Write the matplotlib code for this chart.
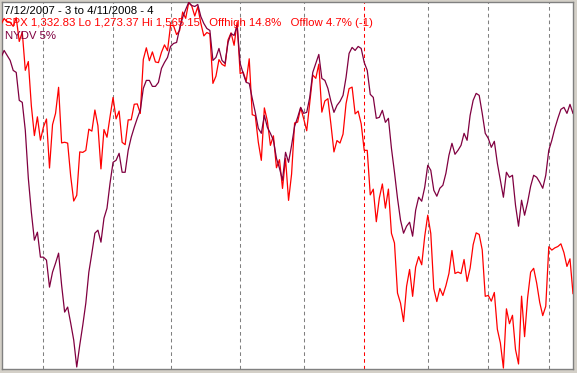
import matplotlib
matplotlib.use('Agg')
import matplotlib.pyplot as plt

# trading days per month, 7/12/2007 .. 4/11/2008
month_days = [14, 23, 19, 23, 21, 20, 21, 20, 20, 9]
new_year_month = 6  # Jan 2008 gets the red divider

# SPX daily closes
spx = [
    1547.70, 1552.50, 1549.52, 1549.37, 1546.17, 1553.08, 1534.10, 1541.57, 1511.04, 1518.09,
    1482.66, 1458.95, 1473.91, 1455.27,
    1465.81, 1472.20, 1433.06, 1467.67, 1476.71, 1497.49, 1453.09, 1453.64, 1452.92, 1426.54,
    1406.70, 1411.27, 1445.94, 1445.55, 1447.12, 1464.07, 1462.50, 1479.37, 1466.79, 1432.36,
    1463.76, 1457.64, 1473.99,
    1489.42, 1472.29, 1478.55, 1453.55, 1451.70, 1471.49, 1471.56, 1483.95, 1484.25, 1476.65,
    1519.78, 1529.03, 1518.75, 1525.75, 1517.73, 1517.21, 1525.42, 1531.38, 1526.75,
    1547.04, 1546.63, 1539.59, 1542.84, 1557.59, 1552.58, 1565.15, 1562.47, 1554.41, 1561.80,
    1548.71, 1538.53, 1541.24, 1540.08, 1500.63, 1506.33, 1519.59, 1515.88, 1514.40, 1535.28,
    1540.98, 1531.02, 1549.38,
    1508.44, 1509.65, 1502.17, 1520.27, 1475.62, 1474.77, 1453.70, 1439.18, 1481.05, 1470.58,
    1451.15, 1458.74, 1433.27, 1439.70, 1416.77, 1440.70, 1407.22, 1428.23, 1469.02, 1469.72,
    1481.14,
    1472.42, 1462.79, 1485.01, 1507.34, 1504.66, 1515.96, 1477.65, 1486.59, 1488.41, 1467.95,
    1445.90, 1454.98, 1453.00, 1460.12, 1484.46, 1496.45, 1497.66, 1476.27, 1478.49, 1468.36,
    1447.16, 1447.16, 1411.63, 1416.18, 1390.19, 1409.13, 1420.33, 1401.02, 1416.25, 1380.95,
    1373.20, 1333.25, 1325.19, 1310.50, 1338.60, 1352.07, 1330.61, 1353.96, 1362.30, 1355.81,
    1378.55,
    1395.42, 1380.82, 1336.64, 1326.45, 1336.91, 1331.29, 1339.13, 1348.86, 1367.21, 1348.86,
    1349.99, 1348.78, 1360.03, 1342.53, 1353.11, 1371.80, 1381.29, 1380.02, 1367.68, 1330.63,
    1331.34, 1326.75, 1333.70, 1304.34, 1293.37, 1273.37, 1320.65, 1308.77, 1315.48, 1288.14,
    1276.60, 1330.74, 1298.42, 1329.51, 1349.88, 1352.99, 1341.13, 1325.76, 1315.22, 1322.70,
    1370.18, 1367.53, 1369.31, 1370.40, 1372.54, 1365.54, 1354.49, 1360.55, 1332.83,
]

# NYDV 5% (arbitrary units)
nydv = [
    313, 320, 315, 310, 300, 298, 270, 268, 240, 192, 158, 130, 138, 113, 113, 110, 83, 98, 107, 117,
    85, 58, 63, 47, 30, 3, 25, 45, 67, 98, 117, 137, 140, 128, 152, 162, 187, 208, 210, 217,
    198, 198, 220, 233, 243, 252, 260, 282, 290, 290, 284, 284, 288, 302, 308, 313, 324, 327, 328, 342,
    353, 361, 368, 365, 364, 366, 354, 347, 342, 340, 310, 313, 322, 310, 307, 328, 337, 335, 345, 307,
    297, 288, 287, 272, 258, 242, 237, 255, 243, 237, 230, 212, 202, 190, 218, 208, 225, 244, 253, 263,
    257, 258, 273, 298, 307, 316, 292, 290, 282, 269, 258, 265, 269, 275, 293, 317, 323, 320, 324, 322,
    308, 300, 276, 273, 252, 253, 260, 248, 252, 222, 198, 172, 150, 137, 144, 148, 134, 160, 173, 169,
    183, 205, 200, 180, 174, 182, 185, 197, 215, 227, 216, 220, 225, 237, 230, 255, 270, 277, 275, 257,
    237, 232, 223, 229, 207, 190, 173, 198, 193, 195, 165, 144, 170, 155, 168, 184, 195, 193, 188, 182,
    195, 220, 230, 242, 252, 261, 263, 257, 266, 257,
]

title_line = '7/12/2007 - 3 to 4/11/2008 - 4'
spx_line = 'SPX 1,332.83 Lo 1,273.37 Hi 1,565.15  Offhigh 14.8%  Offlow 4.7% (-1)'
nydv_line = 'NYDV 5%'

W, H = 577, 373
fig = plt.figure(figsize=(W / 100, H / 100), dpi=100, facecolor='#d4d0c8')
ax = fig.add_axes([2 / W, 4 / H, 571 / W, 367 / H])
ax.set_facecolor('white')
for s in ax.spines.values():
    s.set_color('#808080')
    s.set_linewidth(1.0)

days = list(range(len(spx)))

# month dividers
start = 0
for m, n in enumerate(month_days[:-1]):
    start += n
    col = 'red' if m + 1 == new_year_month else '#808080'
    ax.axvline(start, color=col, lw=0.75, dashes=(3.5, 3), zorder=1)

ax.plot(days, spx, color='#ff0000', lw=0.9, zorder=3)
ax.set_xlim(0.3, 189.0)
ax.set_ylim(1272.6, 1565.6)
ax.set_xticks([])
ax.set_yticks([])

ax2 = ax.twinx()
ax2.plot(days, nydv, color='#800040', lw=0.9, zorder=3)
ax2.set_ylim(1, 368.5)
ax2.set_yticks([])
ax2.set_xlim(0.3, 189.0)
for s in ax2.spines.values():
    s.set_visible(False)

font = dict(family=['Liberation Sans', 'DejaVu Sans'], size=8.2)
fig.text(4 / W, 1 - 13.5 / H, title_line, color='black', va='baseline', **font)
fig.text(5 / W, 1 - 26.5 / H, spx_line.replace('  ', '   '), color='red', va='baseline', **font)
fig.text(5 / W, 1 - 39 / H, nydv_line, color='#800040', va='baseline', **font)

fig.savefig('out.png', dpi=100, facecolor=fig.get_facecolor())
